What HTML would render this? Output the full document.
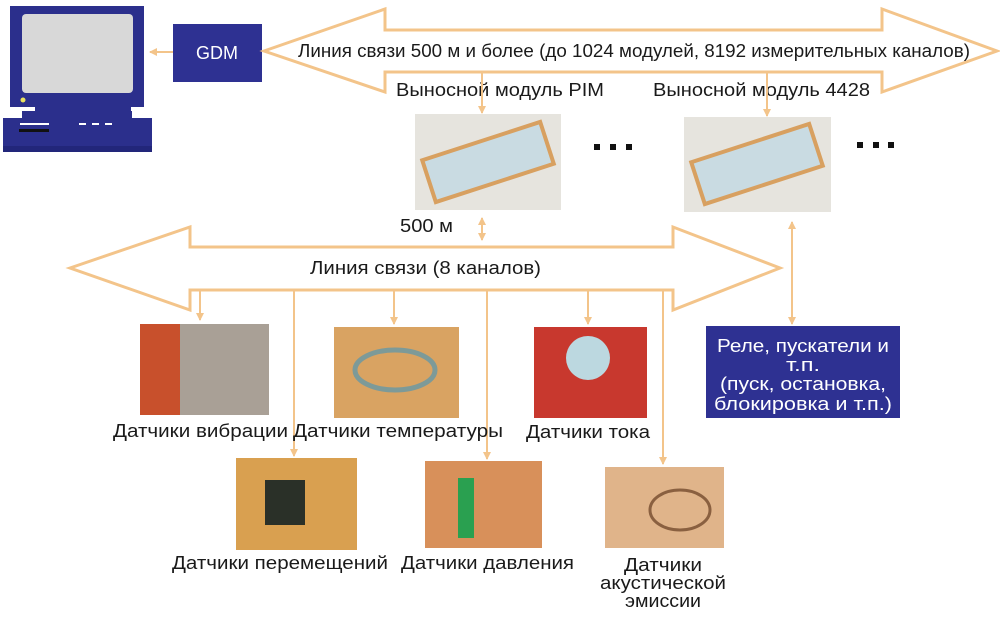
<!DOCTYPE html>
<html><head><meta charset="utf-8"><style>
body{margin:0;background:#fff}
svg text{font-family:"Liberation Sans",sans-serif;fill:#1a1a1a}
</style></head><body>
<svg width="1000" height="614" viewBox="0 0 1000 614" xmlns="http://www.w3.org/2000/svg">
<defs>
<marker id="ah" markerWidth="8" markerHeight="8" refX="7" refY="4" orient="auto" markerUnits="userSpaceOnUse"><path d="M0,0 L8,4 L0,8 z" fill="#f3c48a"/></marker>
<marker id="as" markerWidth="8" markerHeight="8" refX="1" refY="4" orient="auto" markerUnits="userSpaceOnUse"><path d="M8,0 L0,4 L8,8 z" fill="#f3c48a"/></marker>
</defs>
<rect x="10" y="6" width="134" height="101" fill="#2b2f8c"/>
<rect x="22" y="14" width="111" height="79" rx="4" fill="#d8d8d8"/>
<circle cx="23" cy="100" r="2.5" fill="#e8e060"/>
<rect x="35" y="107" width="96" height="5" fill="#2b2f8c"/>
<rect x="22" y="111" width="110" height="7" fill="#2b2f8c"/>
<rect x="3" y="118" width="149" height="34" fill="#2b2f8c"/>
<rect x="3" y="146" width="149" height="6" fill="#22267a"/>
<rect x="20" y="123" width="29" height="2" fill="#fff"/>
<rect x="19" y="129" width="30" height="3" fill="#111"/>
<rect x="79" y="123" width="7" height="2" fill="#fff"/><rect x="92" y="123" width="7" height="2" fill="#fff"/><rect x="105" y="123" width="7" height="2" fill="#fff"/>
<rect x="173" y="24" width="89" height="58" fill="#2e3192"/>
<text x="217" y="59" font-size="18" text-anchor="middle" style="fill:#fff">GDM</text>
<line x1="173" y1="52" x2="150" y2="52" stroke="#f3c48a" stroke-width="2" marker-end="url(#ah)"/>
<polygon points="264,51 385,9 385,30 882,30 882,9 997,51 882,92 882,72 385,72 385,92" fill="#fff" stroke="#f3c48a" stroke-width="3"/>
<text x="298" y="57" font-size="18" textLength="672" lengthAdjust="spacingAndGlyphs">Линия связи 500 м и более (до 1024 модулей, 8192 измерительных каналов)</text>
<text x="396" y="96" font-size="18" textLength="208" lengthAdjust="spacingAndGlyphs">Выносной модуль PIM</text>
<text x="653" y="96" font-size="18" textLength="217" lengthAdjust="spacingAndGlyphs">Выносной модуль 4428</text>
<line x1="482" y1="72" x2="482" y2="113" stroke="#f3c48a" stroke-width="2" marker-end="url(#ah)"/>
<line x1="767" y1="72" x2="767" y2="116" stroke="#f3c48a" stroke-width="2" marker-end="url(#ah)"/>
<rect x="415" y="114" width="146" height="96" fill="#e6e4de"/>
<g transform="translate(488,162) rotate(-18)"><rect x="-62" y="-22" width="124" height="44" fill="#c9dbe2" stroke="#d8a060" stroke-width="4"/></g>
<rect x="684" y="117" width="147" height="95" fill="#e6e4de"/>
<g transform="translate(757,164) rotate(-18)"><rect x="-62" y="-22" width="124" height="44" fill="#c9dbe2" stroke="#d8a060" stroke-width="4"/></g>
<g fill="#111">
<rect x="594" y="144" width="6" height="6"/><rect x="610" y="144" width="6" height="6"/><rect x="626" y="144" width="6" height="6"/>
<rect x="857" y="142" width="6" height="6"/><rect x="873" y="142" width="6" height="6"/><rect x="888" y="142" width="6" height="6"/>
</g>
<text x="400" y="232" font-size="18" textLength="53" lengthAdjust="spacingAndGlyphs">500 м</text>
<line x1="482" y1="218" x2="482" y2="240" stroke="#f3c48a" stroke-width="2" marker-end="url(#ah)" marker-start="url(#as)"/>
<polygon points="70,268 190,227 190,247 673,247 673,227 780,268 673,310 673,290 190,290 190,310" fill="#fff" stroke="#f3c48a" stroke-width="3"/>
<text x="310" y="274" font-size="18" textLength="231" lengthAdjust="spacingAndGlyphs">Линия связи (8 каналов)</text>
<g stroke="#f3c48a" stroke-width="2" marker-end="url(#ah)">
<line x1="200" y1="290" x2="200" y2="320"/>
<line x1="294" y1="290" x2="294" y2="456"/>
<line x1="394" y1="290" x2="394" y2="324"/>
<line x1="487" y1="290" x2="487" y2="459"/>
<line x1="588" y1="290" x2="588" y2="324"/>
<line x1="663" y1="290" x2="663" y2="464"/>
<line x1="792" y1="222" x2="792" y2="324" marker-start="url(#as)"/>
</g>
<rect x="140" y="324" width="129" height="91" fill="#a9a096"/><rect x="140" y="324" width="40" height="91" fill="#c8502c"/>
<rect x="334" y="327" width="125" height="91" fill="#d9a362"/><ellipse cx="395" cy="370" rx="40" ry="20" fill="none" stroke="#7d9a98" stroke-width="5"/>
<rect x="534" y="327" width="113" height="91" fill="#c8382e"/><circle cx="588" cy="358" r="22" fill="#bcd8e0"/>
<rect x="236" y="458" width="121" height="92" fill="#d9a050"/><rect x="265" y="480" width="40" height="45" fill="#2a3028"/>
<rect x="425" y="461" width="117" height="87" fill="#d8905a"/><rect x="458" y="478" width="16" height="60" fill="#2aa050"/>
<rect x="605" y="467" width="119" height="81" fill="#e0b48a"/><ellipse cx="680" cy="510" rx="30" ry="20" fill="none" stroke="#8a6040" stroke-width="3"/>
<g font-size="18">
<text x="113" y="437" textLength="175" lengthAdjust="spacingAndGlyphs">Датчики вибрации</text>
<text x="293" y="437" textLength="210" lengthAdjust="spacingAndGlyphs">Датчики температуры</text>
<text x="526" y="438" textLength="124" lengthAdjust="spacingAndGlyphs">Датчики тока</text>
<text x="172" y="569" textLength="216" lengthAdjust="spacingAndGlyphs">Датчики перемещений</text>
<text x="401" y="569" textLength="173" lengthAdjust="spacingAndGlyphs">Датчики давления</text>
<text x="624" y="571" textLength="78" lengthAdjust="spacingAndGlyphs">Датчики</text>
<text x="600" y="589" textLength="126" lengthAdjust="spacingAndGlyphs">акустической</text>
<text x="625" y="607" textLength="76" lengthAdjust="spacingAndGlyphs">эмиссии</text>
</g>
<rect x="706" y="326" width="194" height="92" fill="#2e3192"/>
<g font-size="18">
<text x="717" y="352" textLength="172" lengthAdjust="spacingAndGlyphs" style="fill:#fff">Реле, пускатели и</text>
<text x="786" y="371" textLength="34" lengthAdjust="spacingAndGlyphs" style="fill:#fff">т.п.</text>
<text x="720" y="390" textLength="166" lengthAdjust="spacingAndGlyphs" style="fill:#fff">(пуск, остановка,</text>
<text x="714" y="410" textLength="178" lengthAdjust="spacingAndGlyphs" style="fill:#fff">блокировка и т.п.)</text>
</g>
</svg>
</body></html>
